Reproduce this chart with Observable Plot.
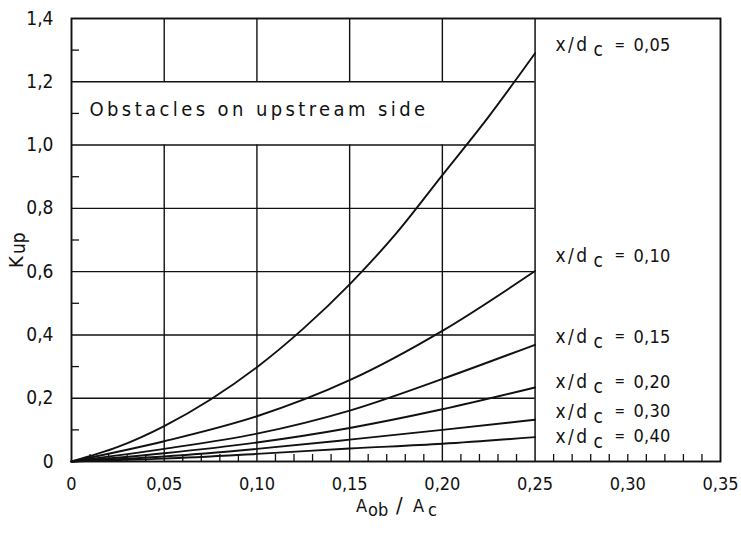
<!DOCTYPE html>
<html><head><meta charset="utf-8">
<script src="https://cdn.jsdelivr.net/npm/d3@7"></script>
<script src="https://cdn.jsdelivr.net/npm/@observablehq/plot@0.6"></script>
<style>body{margin:0;background:#fff}</style>
</head><body><div id="chart"></div>
<script>
// series: x/dc values
const xdc = [0.05, 0.10, 0.15, 0.20, 0.30, 0.40];
// steep curve (x/dc = 0.05) read at finer steps
const aFine = [0, 0.025, 0.05, 0.075, 0.10, 0.125, 0.15, 0.175, 0.20, 0.225, 0.25];
const k005 = [0, 0.046, 0.112, 0.196, 0.298, 0.42, 0.56, 0.72, 0.905, 1.09, 1.29];
// other curves
const aCoarse = [0, 0.05, 0.10, 0.15, 0.20, 0.25];
const k010 = [0, 0.064, 0.143, 0.257, 0.413, 0.602];
const k015 = [0, 0.040, 0.088, 0.161, 0.261, 0.369];
const k020 = [0, 0.026, 0.060, 0.106, 0.165, 0.234];
const k030 = [0, 0.016, 0.040, 0.069, 0.100, 0.132];
const k040 = [0, 0.009, 0.024, 0.041, 0.056, 0.077];
// right-hand label levels (Kup)
const labelK = [1.315, 0.650, 0.394, 0.252, 0.158, 0.079];
const labelA = 0.261;
// ticks
const xTicks = [0, 0.05, 0.10, 0.15, 0.20, 0.25, 0.30, 0.35];
const yTicks = [0, 0.2, 0.4, 0.6, 0.8, 1.0, 1.2, 1.4];
const xMinor = [0.01,0.02,0.03,0.04,0.06,0.07,0.08,0.09,0.11,0.12,0.13,0.14,0.16,0.17,0.18,0.19,0.21,0.22,0.23,0.24,0.26,0.27,0.28,0.29,0.30,0.31,0.32,0.33,0.34];
const yMinor = [0.1, 0.3, 0.5, 0.7, 0.9, 1.1, 1.3];
const gridX = [0.05, 0.10, 0.15, 0.20];
const gridY = [0.2, 0.4, 0.6, 0.8, 1.0, 1.2];
const bandLow = 1.0, bandHigh = 1.2, xEnd = 0.25, xMax = 0.35, yMax = 1.4;
const note = "Obstacles on upstream side";
const noteA = 0.0097, noteK = 1.113;

const series = [[aFine, k005], [aCoarse, k010], [aCoarse, k015], [aCoarse, k020], [aCoarse, k030], [aCoarse, k040]];
const rows = [];
series.forEach(([xs, ys], i) => xs.forEach((a, j) => rows.push({xd: xdc[i], a, k: ys[j]})));
const labels = xdc.map((v, i) => ({a: labelA, k: labelK[i], v: v.toFixed(2).replace(".", ",")}));

const fmt = (n) => (d) => d === 0 ? "0" : d.toFixed(n).replace(".", ",");
const ink = "#111";
const FF = "'DejaVu Sans Condensed', 'DejaVu Sans', sans-serif";
const W = 741, H = 533, mL = 71, mR = 21, mT = 18, mB = 72;
const iw = W - mL - mR, ih = H - mT - mB;

const chart = Plot.plot({
  width: W, height: H,
  marginLeft: mL, marginRight: mR, marginTop: mT, marginBottom: mB,
  style: {fontFamily: FF, fontSize: "18px", color: ink, background: "#fff"},
  x: {domain: [0, xMax]},
  y: {domain: [0, yMax]},
  marks: [
    Plot.ruleX(gridX, {x: d => d, y1: 0, y2: bandLow, stroke: ink, strokeWidth: 1.4}),
    Plot.ruleX(gridX, {x: d => d, y1: bandHigh, y2: yMax, stroke: ink, strokeWidth: 1.4}),
    Plot.ruleX([xEnd], {x: d => d, y1: 0, y2: yMax, stroke: ink, strokeWidth: 1.5}),
    Plot.ruleY(gridY, {y: d => d, x1: 0, x2: xEnd, stroke: ink, strokeWidth: 1.4}),
    Plot.tickX(xMinor, {x: d => d, insetTop: ih - 7, stroke: ink, strokeWidth: 1.3}),
    Plot.tickY(yMinor, {y: d => d, insetRight: iw - 8, stroke: ink, strokeWidth: 1.3}),
    Plot.frame({stroke: ink, strokeWidth: 1.9}),
    Plot.line(rows, {x: "a", y: "k", z: "xd", curve: "monotone-x", stroke: ink, strokeWidth: 1.9}),
    Plot.axisX({ticks: xTicks, tickSize: 0, tickPadding: 16, tickFormat: fmt(2), fontSize: 18, fill: ink, label: null}),
    Plot.axisY({ticks: yTicks, tickSize: 0, tickPadding: 18, tickFormat: fmt(1), fontSize: 19, fill: ink, label: null}),
    Plot.text([note], {x: noteA, y: noteK, text: d => d, textAnchor: "start", fontSize: 20, fill: ink}),
    Plot.text(labels, {x: "a", y: "k", text: () => "x/d", textAnchor: "start", fontSize: 19, fill: ink}),
    Plot.text(labels, {x: "a", y: "k", text: () => "c", dx: 38, dy: 5, textAnchor: "start", fontSize: 19, fill: ink}),
    Plot.text(labels, {x: "a", y: "k", text: () => "=", dx: 59, textAnchor: "start", fontSize: 14, fill: ink}),
    Plot.text(labels, {x: "a", y: "k", text: "v", dx: 78, textAnchor: "start", fontSize: 18, fill: ink}),
    // x axis title A_ob / A_c
    Plot.text(["A"], {frameAnchor: "bottom", text: d => d, dx: -40, dy: 50, textAnchor: "start", fontSize: 18, fill: ink}),
    Plot.text(["ob"], {frameAnchor: "bottom", text: d => d, dx: -28, dy: 54, textAnchor: "start", fontSize: 18, fill: ink}),
    Plot.text(["/"], {frameAnchor: "bottom", text: d => d, dx: 0, dy: 51, textAnchor: "start", fontSize: 22, fill: ink}),
    Plot.text(["A"], {frameAnchor: "bottom", text: d => d, dx: 17, dy: 50, textAnchor: "start", fontSize: 18, fill: ink}),
    Plot.text(["c"], {frameAnchor: "bottom", text: d => d, dx: 32, dy: 54, textAnchor: "start", fontSize: 18, fill: ink}),
    // y axis title K_up
    Plot.text(["K"], {frameAnchor: "left", text: d => d, rotate: -90, dx: -55, dy: 28, textAnchor: "start", fontSize: 20, fill: ink}),
    Plot.text(["up"], {frameAnchor: "left", text: d => d, rotate: -90, dx: -53, dy: 14, textAnchor: "start", fontSize: 19, fill: ink})
  ]
});
chart.querySelectorAll("text").forEach(t => {
  const s = t.textContent;
  if (s === note) t.setAttribute("letter-spacing", "3.4");
  else if (s === "x/d") t.setAttribute("letter-spacing", "2.5");
  else if (/^0,\d\d$/.test(s) && t.closest('g[aria-label="text"]')) t.setAttribute("letter-spacing", "0.3");
});
document.getElementById("chart").appendChild(chart);
</script>
</body></html>
